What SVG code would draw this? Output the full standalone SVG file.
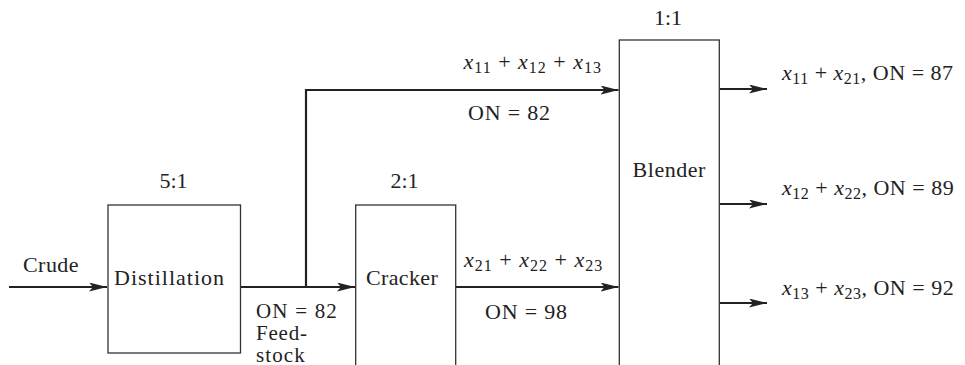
<svg xmlns="http://www.w3.org/2000/svg" width="965" height="365" viewBox="0 0 965 365">
<style>
text{font-family:'Liberation Serif',serif;font-size:22px;fill:#222}
.i{font-style:italic}
.s{font-size:16px}
.sm{font-size:21px}
.box{fill:#fff;stroke:#333;stroke-width:1.3}
.flow{fill:none;stroke:#222;stroke-width:2.2;marker-end:url(#ah)}
</style>
<defs>
<marker id="ah" markerUnits="userSpaceOnUse" markerWidth="20" markerHeight="10" refX="18" refY="4.5" orient="auto">
<path d="M0,0 L18,4.5 L0,9 L4,4.5 Z" fill="#222"/>
</marker>
</defs>
<rect width="965" height="365" fill="#fff"/>
<g id="connectors">
<path class="flow" d="M9,287 H107"/>
<path class="flow" d="M241,287 H355"/>
<path class="flow" d="M306,287 V90 H618.5"/>
<path class="flow" d="M456,287 H618.5"/>
<path class="flow" d="M719,89 H767"/>
<path class="flow" d="M719,204 H767"/>
<path class="flow" d="M719,303 H767"/>
</g>
<g id="distillation">
<rect class="box" x="108" y="205" width="132.5" height="148"/>
<text style="font-family:'Liberation Serif',serif;letter-spacing:1px" x="114" y="285">Distillation</text>
<text style="font-family:'Liberation Serif',serif" x="173.5" y="188" text-anchor="middle">5:1</text>
</g>
<g id="cracker">
<rect class="box" x="355.7" y="205" width="100" height="175"/>
<text style="font-family:'Liberation Serif',serif;letter-spacing:0.35px" x="366" y="285">Cracker</text>
<text style="font-family:'Liberation Serif',serif" x="404.5" y="188" text-anchor="middle">2:1</text>
</g>
<g id="blender">
<rect class="box" x="619.3" y="40" width="100" height="340"/>
<text style="font-family:'Liberation Serif',serif;letter-spacing:0.55px" x="632.5" y="176.5">Blender</text>
<text style="font-family:'Liberation Serif',serif" x="668" y="25" text-anchor="middle">1:1</text>
</g>
<g id="labels">
<text style="font-family:'Liberation Serif',serif;letter-spacing:0.45px" x="23" y="272">Crude</text>
<text style="font-family:'Liberation Serif',serif;letter-spacing:1.2px" class="sm" x="256" y="318">ON = 82</text>
<text style="font-family:'Liberation Serif',serif;letter-spacing:0.8px" class="sm" x="256" y="340">Feed-</text>
<text style="font-family:'Liberation Serif',serif;letter-spacing:1.1px" class="sm" x="256" y="362">stock</text>
<text style="font-family:'Liberation Serif',serif;letter-spacing:0.8px" x="468" y="120">ON = 82</text>
<text style="font-family:'Liberation Serif',serif;letter-spacing:0.8px" x="485" y="318.5">ON = 98</text>
<text style="font-family:'Liberation Serif',serif;letter-spacing:1px" x="463.5" y="68.5"><tspan class="i">x</tspan><tspan class="s" dy="4">11</tspan><tspan dy="-4"> + </tspan><tspan class="i">x</tspan><tspan class="s" dy="4">12</tspan><tspan dy="-4"> + </tspan><tspan class="i">x</tspan><tspan class="s" dy="4">13</tspan></text>
<text style="font-family:'Liberation Serif',serif;letter-spacing:1px" x="464" y="266.5"><tspan class="i">x</tspan><tspan class="s" dy="4">21</tspan><tspan dy="-4"> + </tspan><tspan class="i">x</tspan><tspan class="s" dy="4">22</tspan><tspan dy="-4"> + </tspan><tspan class="i">x</tspan><tspan class="s" dy="4">23</tspan></text>
<text style="font-family:'Liberation Serif',serif;letter-spacing:0.5px" x="782" y="80"><tspan class="i">x</tspan><tspan class="s" dy="4">11</tspan><tspan dy="-4"> + </tspan><tspan class="i">x</tspan><tspan class="s" dy="4">21</tspan><tspan dy="-4">, ON = 87</tspan></text>
<text style="font-family:'Liberation Serif',serif;letter-spacing:0.5px" x="782" y="195"><tspan class="i">x</tspan><tspan class="s" dy="4">12</tspan><tspan dy="-4"> + </tspan><tspan class="i">x</tspan><tspan class="s" dy="4">22</tspan><tspan dy="-4">, ON = 89</tspan></text>
<text style="font-family:'Liberation Serif',serif;letter-spacing:0.5px" x="782" y="295"><tspan class="i">x</tspan><tspan class="s" dy="4">13</tspan><tspan dy="-4"> + </tspan><tspan class="i">x</tspan><tspan class="s" dy="4">23</tspan><tspan dy="-4">, ON = 92</tspan></text>
</g>
</svg>
